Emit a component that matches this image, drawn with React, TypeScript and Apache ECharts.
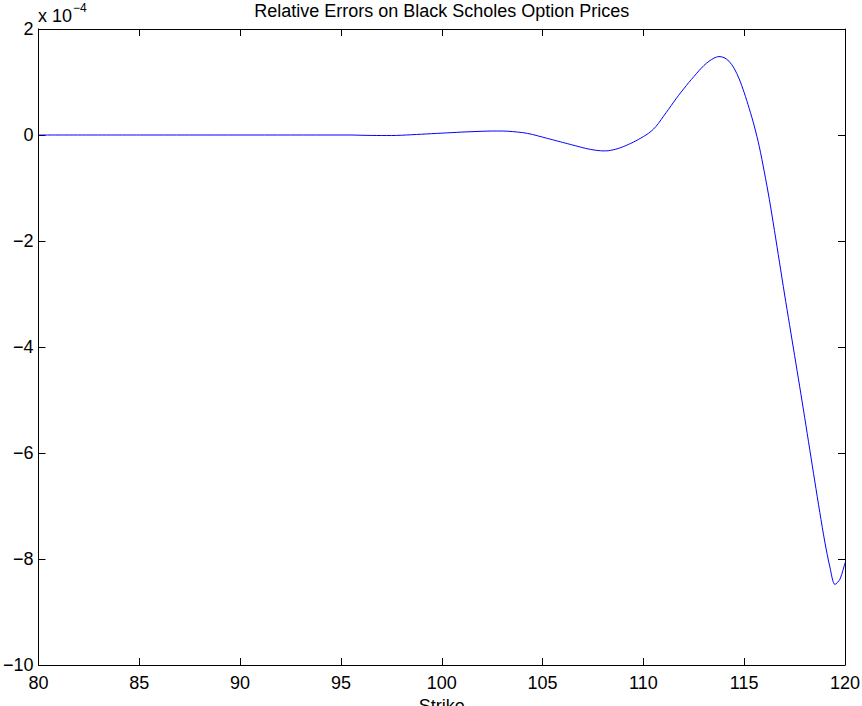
import React, { useEffect, useRef } from "react";
import * as echarts from "echarts";

// Strike prices and relative pricing errors (in units of 1e-4)
const strikes = [
  80, 85, 90, 95, 95.5, 96, 96.5, 97, 97.5, 98, 98.5, 99, 99.5, 100, 100.5, 101,
  101.5, 102, 102.5, 103, 103.5, 104, 104.25, 104.5, 104.75, 105, 105.25, 105.5,
  105.75, 106, 106.25, 106.5, 106.75, 107, 107.25, 107.5, 107.75, 108, 108.25,
  108.5, 108.75, 109, 109.25, 109.5, 109.75, 110, 110.25, 110.5, 110.75, 111,
  111.25, 111.5, 111.75, 112, 112.25, 112.5, 112.75, 113, 113.25, 113.5, 113.75,
  114, 114.25, 114.5, 114.75, 115, 115.25, 115.5, 115.75, 116, 116.25, 116.5,
  116.75, 117, 117.25, 117.5, 117.75, 118, 118.25, 118.5, 118.75, 119, 119.25,
  119.5, 119.75, 120,
];
const relErrors = [
  0, 0, 0, 0, 0, -0.005, -0.008, -0.01, -0.01, -0.005, 0.005, 0.015, 0.025, 0.035,
  0.045, 0.055, 0.063, 0.07, 0.075, 0.075, 0.065, 0.045, 0.03, 0.01, -0.015,
  -0.04, -0.065, -0.09, -0.115, -0.14, -0.165, -0.19, -0.215, -0.24, -0.262,
  -0.28, -0.293, -0.3, -0.297, -0.28, -0.255, -0.22, -0.18, -0.135, -0.085,
  -0.03, 0.03, 0.11, 0.22, 0.355, 0.485, 0.62, 0.75, 0.87, 0.99, 1.1, 1.21, 1.31,
  1.39, 1.45, 1.48, 1.46, 1.39, 1.26, 1.06, 0.8, 0.5, 0.17, -0.22, -0.7, -1.22,
  -1.8, -2.4, -3.0, -3.58, -4.16, -4.74, -5.33, -5.93, -6.53, -7.12, -7.68, -8.15,
  -8.48, -8.38, -8.07,
];

const xTicks = { min: 80, max: 120, interval: 5 };
const yTicks = { min: -10, max: 2, interval: 2 };

const titleText = "Relative Errors on Black Scholes Option Prices";
const xName = "Strike";
const scaleBase = "x 10";
const scaleExp = "\u22124";

const FONT = "'Liberation Sans', Arial, Helvetica, sans-serif";

export default function App() {
  const ref = useRef<HTMLDivElement>(null);

  useEffect(() => {
    if (!ref.current) return;
    const chart = echarts.init(ref.current, undefined, { renderer: "svg" });

    const gridLeft = 38.5;
    const gridRight = 17;
    const gridTop = 29;
    const gridBottom = 41;
    const plotCenter = gridLeft + (862 - gridLeft - gridRight) / 2;

    const tickStyle = { show: true, inside: true, length: 7, lineStyle: { color: "#000", width: 1 } };
    const lineStyle = { color: "#000", width: 1 };
    const minusFmt = (v: number) => String(v).replace("-", "\u2212");

    chart.setOption({
      animation: false,
      backgroundColor: "#fff",
      textStyle: { fontFamily: FONT },
      grid: {
        left: gridLeft,
        right: gridRight,
        top: gridTop,
        bottom: gridBottom,
        containLabel: false,
        outerBoundsMode: "none",
      },
      graphic: [
        {
          type: "text",
          x: plotCenter,
          y: 11,
          style: {
            text: titleText,
            fill: "#000",
            font: `18px ${FONT}`,
            textAlign: "center",
            textVerticalAlign: "middle",
          },
        },
        {
          type: "text",
          x: 38,
          y: 15.5,
          style: {
            text: scaleBase,
            fill: "#000",
            font: `18px ${FONT}`,
            textAlign: "left",
            textVerticalAlign: "middle",
          },
        },
        {
          type: "text",
          x: 73,
          y: 7.5,
          style: {
            text: scaleExp,
            fill: "#000",
            font: `12px ${FONT}`,
            textAlign: "left",
            textVerticalAlign: "middle",
          },
        },
      ],
      xAxis: [
        {
          type: "value",
          position: "bottom",
          min: xTicks.min,
          max: xTicks.max,
          interval: xTicks.interval,
          splitLine: { show: false },
          axisLine: { show: true, onZero: false, lineStyle },
          axisTick: tickStyle,
          axisLabel: { color: "#000", fontSize: 18, fontFamily: FONT, margin: 9 },
          name: xName,
          nameLocation: "middle",
          nameGap: 31,
          nameTextStyle: { color: "#000", fontSize: 18, fontFamily: FONT, verticalAlign: "top" },
        },
        {
          type: "value",
          position: "top",
          min: xTicks.min,
          max: xTicks.max,
          interval: xTicks.interval,
          splitLine: { show: false },
          axisLine: { show: true, onZero: false, lineStyle },
          axisTick: tickStyle,
          axisLabel: { show: false },
        },
      ],
      yAxis: [
        {
          type: "value",
          position: "left",
          min: yTicks.min,
          max: yTicks.max,
          interval: yTicks.interval,
          splitLine: { show: false },
          axisLine: { show: true, onZero: false, lineStyle },
          axisTick: tickStyle,
          axisLabel: { color: "#000", fontSize: 18, fontFamily: FONT, margin: 5, formatter: minusFmt },
        },
        {
          type: "value",
          position: "right",
          min: yTicks.min,
          max: yTicks.max,
          interval: yTicks.interval,
          splitLine: { show: false },
          axisLine: { show: true, onZero: false, lineStyle },
          axisTick: tickStyle,
          axisLabel: { show: false },
        },
      ],
      series: [
        {
          type: "line",
          xAxisIndex: 0,
          yAxisIndex: 0,
          data: strikes.map((s, i) => [s, relErrors[i]]),
          smooth: 0.3,
          showSymbol: false,
          lineStyle: { color: "#0000ff", width: 1 },
          clip: true,
        },
      ],
    });

    return () => chart.dispose();
  }, []);

  return (
    <div
      ref={ref}
      style={{ position: "fixed", left: 0, top: 0, width: 862, height: 706, background: "#fff" }}
    />
  );
}
